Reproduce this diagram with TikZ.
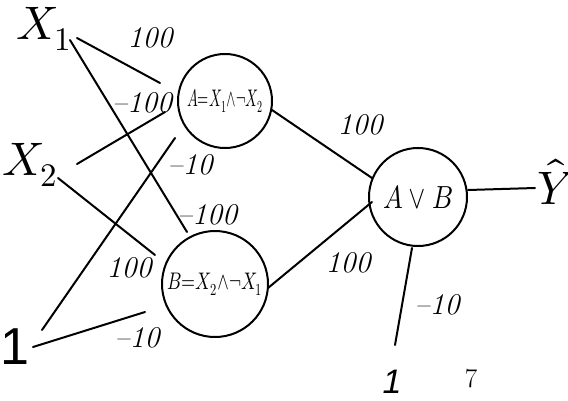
\documentclass[tikz,border=0pt]{standalone}
\usepackage{graphicx}
\usepackage{fontspec}
\usepackage{unicode-math}
\newfontfamily\biasfont{Liberation Sans}
\begin{document}
\begin{tikzpicture}[x=1pt,y=-1pt,
  wire/.style={line width=2pt, line cap=round},
  neuron/.style={circle, draw, line width=2pt, inner sep=0pt},
  weight/.style={font=\fontsize{30}{32}\selectfont\itshape, inner sep=0pt},
  inlabel/.style={font=\fontsize{47}{49}\selectfont, inner sep=0pt},
  biaslabel/.style={font=\fontsize{52}{54}\selectfont\biasfont, inner sep=0pt},
  cellfont/.style={font=\fontsize{24}{26}\selectfont}]
\useasboundingbox (0,0) rectangle (568,400);

% inputs
\node[inlabel] (x1) at (44,29) {$X_1$};
\node[inlabel] (x2) at (30,165) {$X_2$};
\node[biaslabel] (one) at (15,347) {1};
\node[biaslabel, font=\fontsize{34}{36}\selectfont\biasfont\itshape] (one2) at (392,382) {1};

% hidden and output units
\node[neuron, minimum size=94pt, cellfont] (A) at (225,101)
  {\scalebox{0.6}[1]{$A{=}X_1{\wedge}{\neg}X_2$}};
\node[neuron, minimum size=106pt, cellfont] (B) at (215,284)
  {\scalebox{0.75}[1]{$B{=}X_2{\wedge}{\neg}X_1$}};
\node[neuron, minimum size=98pt, font=\fontsize{32}{34}\selectfont] (AvB) at (418,197)
  {\scalebox{0.82}[1]{$A\vee B$}};
\node[inlabel] (yhat) at (556,182) {$\hat{Y}$};

% page number
\node[font=\fontsize{27}{29}\selectfont] (pg) at (471,379) {7};

% input -> hidden connections
\draw[wire] ([shift={(33,9)}]x1.center) -- ([shift={(-65,-18)}]A.center);
\draw[wire] ([shift={(26,11)}]x1.center) -- ([shift={(-28,-52)}]B.center);
\draw[wire] ([shift={(47,-1)}]x2.center) -- ([shift={(-60,11)}]A.center);
\draw[wire] ([shift={(28,13)}]x2.center) -- ([shift={(-60,-29)}]B.center);
\draw[wire] ([shift={(27,-17)}]one.center) -- ([shift={(-50,37)}]A.center);
\draw[wire] ([shift={(18,0)}]one.center) -- ([shift={(-70,28)}]B.center);

% hidden -> output connections
\draw[wire] ([shift={(47,9)}]A.center) -- ([shift={(-46,-19)}]AvB.center);
\draw[wire] ([shift={(53,4)}]B.center) -- ([shift={(-46,5)}]AvB.center);
\draw[wire] ([shift={(3,-37)}]one2.center) -- ([shift={(-6,51)}]AvB.center);
\draw[wire] ([shift={(50,-7)}]AvB.center) -- ([shift={(-21,6)}]yhat.center);

% weights
\node[weight] (w1) at (150,38) {100};
\node[weight] (w2) at (142,103) {–100};
\node[weight] (w3) at (190,165) {–10};
\node[weight] (w4) at (207,215) {–100};
\node[weight] (w5) at (129,268) {100};
\node[weight] (w6) at (137,338) {–10};
\node[weight] (w7) at (360,125) {100};
\node[weight] (w8) at (348,263) {100};
\node[weight] (w9) at (437,305) {–10};
\end{tikzpicture}
\end{document}
